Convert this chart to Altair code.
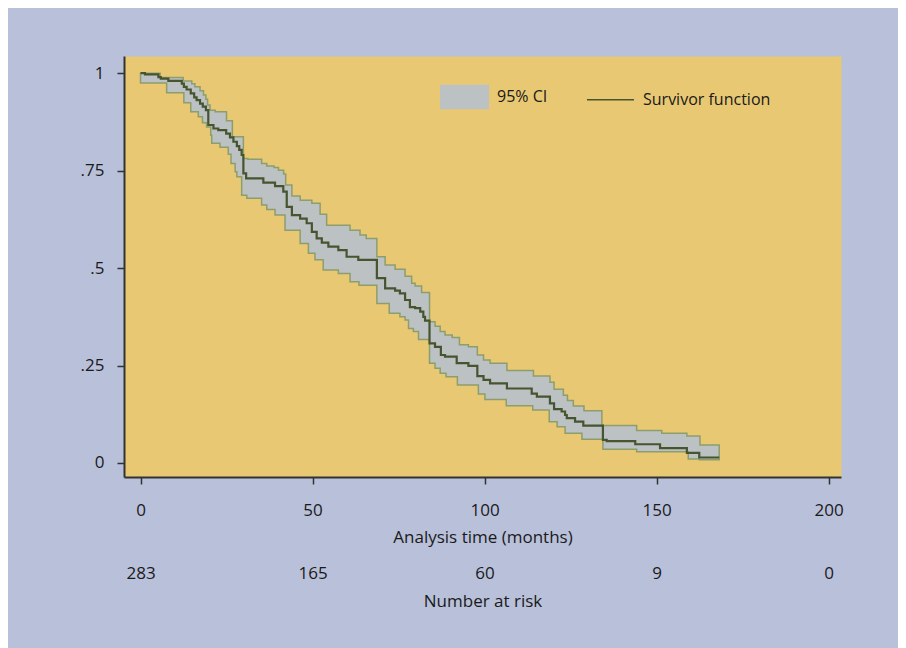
import altair as alt
import pandas as pd
import numpy as np

FONT = "Open Sans"

# Kaplan-Meier survivor function (months, S(t))
surv_t = [0, 1.3, 5.2, 5.9, 8.1, 12.0, 12.6, 13.4, 14.6, 15.6, 16.3, 17.3, 18.1, 19.0, 19.7,
          21.2, 22.6, 24.9, 26.0, 27.0, 28.0, 28.7, 29.4, 29.9, 30.7, 35.7, 39.1, 41.5, 42.5,
          44.0, 46.4, 48.3, 49.8, 51.2, 52.7, 54.6, 57.5, 59.9, 63.3, 68.7, 71.1, 74.0, 75.4,
          76.9, 78.3, 79.8, 81.3, 82.2, 82.7, 84.0, 85.6, 87.3, 88.5, 91.9, 95.3, 97.9, 99.7,
          101.6, 106.5, 113.7, 115.2, 119.0, 120.2, 122.4, 123.4, 123.9, 126.3, 128.7, 134.4,
          135.5, 143.8, 151.0, 158.8, 162.4, 168.2]
surv_s = [1.0, .997, .99, .986, .98, .973, .965, .958, .948, .938, .931, .922, .914, .905, .867,
          .858, .854, .845, .835, .824, .813, .803, .79, .743, .73, .719, .71, .696, .657,
          .636, .627, .615, .593, .576, .565, .555, .546, .529, .521, .474, .448, .442, .435,
          .418, .40, .397, .388, .375, .365, .307, .298, .277, .273, .256, .249, .223, .213,
          .204, .191, .178, .17, .153, .138, .132, .123, .115, .106, .096, .059,
          .056, .048, .038, .026, .014, .014]

# 95% CI upper bound
upper_t = [0, 5.7, 12.4, 14.9, 15.8, 17.3, 18.3, 19.0, 19.5, 20.2, 21.7, 25.0, 26.7, 29.9, 31.2,
           35.2, 36.7, 38.8, 40.1, 41.6, 42.2, 44.0, 46.4, 49.8, 52.2, 54.1, 60.9, 63.8, 65.6,
           68.7, 71.1, 74.0, 76.9, 78.8, 79.8, 81.7, 84.0, 85.6, 87.1, 88.5, 90.6, 92.7, 95.3,
           97.9, 99.7, 101.6, 106.5, 114.2, 119.0, 120.2, 122.9, 124.1, 125.8, 128.9, 134.1,
           144.2, 151.5, 158.8, 162.6, 168.2]
upper_s = [1.0, .989, .98, .973, .965, .955, .944, .933, .918, .905, .901, .878, .837, .781, .779,
           .768, .762, .758, .751, .741, .713, .685, .674, .666, .638, .61, .597, .585, .576,
           .529, .508, .497, .479, .461, .454, .437, .362, .351, .337, .328, .322, .303, .298,
           .277, .264, .256, .237, .223, .207, .189, .174, .16, .146, .134, .096,
           .083, .076, .069, .046, .046]

# 95% CI lower bound
lower_t = [0, 7.6, 12.6, 14.6, 16.8, 18.0, 19.2, 20.4, 20.7, 23.1, 25.5, 26.3, 27.5, 28.0, 29.4,
           30.9, 35.2, 36.7, 39.1, 42.0, 46.4, 48.8, 50.7, 53.1, 57.5, 60.9, 63.5, 68.7, 72.3,
           75.4, 76.9, 77.9, 79.3, 80.8, 84.0, 85.6, 87.1, 88.8, 92.1, 98.2, 100.1, 106.3, 114.0,
           118.8, 121.1, 123.4, 128.3, 134.4, 144.2, 159.2, 162.4, 168.2]
lower_s = [.975, .95, .924, .901, .888, .873, .862, .841, .82, .81, .792, .768, .747, .734, .687,
           .679, .662, .65, .636, .597, .563, .538, .521, .495, .486, .465, .456, .409, .384,
           .375, .367, .345, .337, .317, .256, .243, .23, .221, .20, .177, .163, .147, .136,
           .106, .093, .076, .061, .035, .029, .01, .008, .008]

# Number at risk table
risk_times = [0, 50, 100, 150, 200]
risk_counts = [283, 165, 60, 9, 0]

x_ticks = [0, 50, 100, 150, 200]
y_ticks = [0, 0.25, 0.5, 0.75, 1]
ci_label = "95% CI"
line_label = "Survivor function"

# ---- build tables ----
def step_eval(ts, vs, at):
    ts = np.asarray(ts)
    idx = np.searchsorted(ts, at, side="right") - 1
    return [vs[i] for i in idx]

band_t = sorted(set(upper_t) | set(lower_t))
band = pd.DataFrame({
    "t": band_t,
    "upper": step_eval(upper_t, upper_s, band_t),
    "lower": step_eval(lower_t, lower_s, band_t),
    "series": ci_label,
})
surv = pd.DataFrame({"t": surv_t, "s": surv_s, "series": line_label})
risk = pd.DataFrame({"t": risk_times, "n": risk_counts})

x_scale = alt.Scale(domain=[-4.8, 203.6], nice=False, zero=False)
y_scale = alt.Scale(domain=[-0.036, 1.044], nice=False, zero=False)

TXT = "#1a1a1a"
AX = "#333333"

y_axis = alt.Axis(values=y_ticks, title=None,
                  labelExpr="replace(format(datum.value, '.2~f'), '0.', '.')",
                  tickSize=7, labelPadding=13, labelFontSize=17, labelFont=FONT,
                  labelColor=TXT, grid=False, domainColor=AX, domainWidth=2,
                  tickColor=AX, tickWidth=1.5, labelFlush=False)

x_axis = alt.Axis(values=x_ticks, title="Analysis time (months)", orient="bottom",
                  tickSize=7, labelPadding=18, titlePadding=11, labelFontSize=17,
                  titleFontSize=17, titleFontWeight="normal", labelFont=FONT, titleFont=FONT,
                  labelColor=TXT, titleColor=TXT, grid=False, domainColor=AX, domainWidth=2,
                  tickColor=AX, tickWidth=1.5, labelFlush=False)

risk_expr = " : ".join(
    [f"datum.value == {t} ? '{n}'" for t, n in zip(risk_times, risk_counts)]
) + " : ''"
risk_axis = alt.Axis(values=risk_times, labelExpr=risk_expr, title="Number at risk",
                     orient="bottom", offset=80, ticks=False, tickSize=0, domain=False,
                     labelPadding=8, titlePadding=12, labelFontSize=17, titleFontSize=17,
                     titleFontWeight="normal", labelFont=FONT, titleFont=FONT,
                     labelColor=TXT, titleColor=TXT, grid=False, labelFlush=False)

rect_path = "M-1,-0.5L1,-0.5L1,0.5L-1,0.5Z"

area = alt.Chart(band).mark_area(
    interpolate="step-after", stroke="#8c9e6c", strokeWidth=1.5
).encode(
    x=alt.X("t:Q", scale=x_scale, axis=x_axis),
    y=alt.Y("upper:Q", scale=y_scale, axis=y_axis),
    y2="lower:Q",
    fill=alt.Fill("series:N", scale=alt.Scale(domain=[ci_label], range=["#bcc1c4"]),
                  legend=alt.Legend(orient="none", legendX=316, legendY=16.5, title=None,
                                    symbolType=rect_path, symbolSize=2401,
                                    symbolStrokeWidth=0, labelOffset=8, padding=0,
                                    labelFontSize=16, labelFont=FONT, labelColor=TXT)),
)

line = alt.Chart(surv).mark_line(
    interpolate="step-after", strokeWidth=2.2
).encode(
    x=alt.X("t:Q", scale=x_scale, axis=None),
    y=alt.Y("s:Q", scale=y_scale, axis=y_axis),
    stroke=alt.Stroke("series:N", scale=alt.Scale(domain=[line_label], range=["#46542f"]),
                      legend=alt.Legend(orient="none", legendX=462, legendY=19.2, title=None,
                                        symbolType="stroke", symbolSize=2209,
                                        symbolStrokeWidth=1.5, labelOffset=8, padding=0,
                                        labelFontSize=16, labelFont=FONT, labelColor=TXT)),
)

risk_layer = alt.Chart(risk).mark_point(opacity=0).encode(
    x=alt.X("t:Q", scale=x_scale, axis=risk_axis),
)

chart = alt.layer(area, line, risk_layer).resolve_axis(x="independent").properties(
    width=717, height=421,
    autosize=alt.AutoSizeParams(type="none"),
    padding={"left": 116, "top": 48, "right": 57, "bottom": 171},
    background="#b8c0da",
).configure_view(fill="#e8c873", stroke="transparent")

chart.save("out.html", embed_options={"renderer": "svg", "actions": False})
